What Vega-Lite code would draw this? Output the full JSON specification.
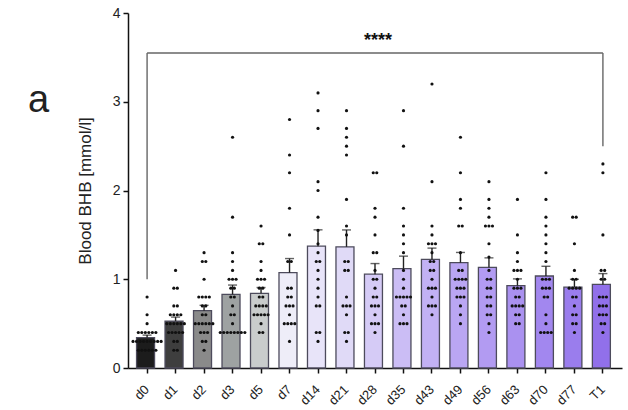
{
  "$schema": "https://vega.github.io/schema/vega-lite/v6.json",
  "width": 494,
  "height": 355,
  "autosize": {"type": "none"},
  "padding": {"left": 128, "top": 13, "right": 6, "bottom": 42},
  "background": "white",
  "title": {"text": "a", "orient": "top", "anchor": "start", "frame": "group", "fontSize": 38, "fontWeight": "normal", "font": "Liberation Sans", "color": "#222", "dx": -100, "dy": 118},
  "config": {
    "view": {"stroke": null},
    "axis": {"domainColor": "#111", "domainWidth": 1.5, "tickColor": "#111", "tickWidth": 1.5, "tickSize": 5, "labelFont": "Liberation Sans", "titleFont": "Liberation Sans", "labelColor": "#222", "titleColor": "#222", "grid": false},
    "axisX": {"labelAngle": 315, "labelAlign": "right", "labelBaseline": "middle", "labelFontSize": 13, "labelPadding": 14, "title": null}
  },
  "datasets": {
    "pts": [
      {"day":"d0","v":0.8},{"day":"d0","v":0.6},{"day":"d0","v":0.5},{"day":"d0","v":0.4},{"day":"d0","v":0.4},{"day":"d0","v":0.4},{"day":"d0","v":0.4},{"day":"d0","v":0.4},{"day":"d0","v":0.4},{"day":"d0","v":0.3},{"day":"d0","v":0.3},{"day":"d0","v":0.3},{"day":"d0","v":0.3},{"day":"d0","v":0.3},{"day":"d0","v":0.3},{"day":"d0","v":0.3},{"day":"d0","v":0.3},{"day":"d0","v":0.3},{"day":"d0","v":0.2},{"day":"d0","v":0.2},{"day":"d0","v":0.2},{"day":"d0","v":0.2},{"day":"d0","v":0.2},{"day":"d0","v":0.2},
      {"day":"d1","v":1.1},{"day":"d1","v":0.9},{"day":"d1","v":0.9},{"day":"d1","v":0.7},{"day":"d1","v":0.7},{"day":"d1","v":0.6},{"day":"d1","v":0.6},{"day":"d1","v":0.6},{"day":"d1","v":0.6},{"day":"d1","v":0.5},{"day":"d1","v":0.5},{"day":"d1","v":0.5},{"day":"d1","v":0.5},{"day":"d1","v":0.5},{"day":"d1","v":0.5},{"day":"d1","v":0.4},{"day":"d1","v":0.4},{"day":"d1","v":0.4},{"day":"d1","v":0.4},{"day":"d1","v":0.4},{"day":"d1","v":0.3},{"day":"d1","v":0.3},{"day":"d1","v":0.2},{"day":"d1","v":0.2},
      {"day":"d2","v":1.3},{"day":"d2","v":1.2},{"day":"d2","v":1.2},{"day":"d2","v":1.0},{"day":"d2","v":0.8},{"day":"d2","v":0.8},{"day":"d2","v":0.8},{"day":"d2","v":0.8},{"day":"d2","v":0.7},{"day":"d2","v":0.7},{"day":"d2","v":0.6},{"day":"d2","v":0.6},{"day":"d2","v":0.5},{"day":"d2","v":0.5},{"day":"d2","v":0.5},{"day":"d2","v":0.5},{"day":"d2","v":0.5},{"day":"d2","v":0.5},{"day":"d2","v":0.4},{"day":"d2","v":0.4},{"day":"d2","v":0.4},{"day":"d2","v":0.3},{"day":"d2","v":0.3},{"day":"d2","v":0.2},
      {"day":"d3","v":2.6},{"day":"d3","v":1.7},{"day":"d3","v":1.3},{"day":"d3","v":1.2},{"day":"d3","v":1.1},{"day":"d3","v":1.0},{"day":"d3","v":1.0},{"day":"d3","v":1.0},{"day":"d3","v":0.9},{"day":"d3","v":0.9},{"day":"d3","v":0.8},{"day":"d3","v":0.8},{"day":"d3","v":0.7},{"day":"d3","v":0.6},{"day":"d3","v":0.6},{"day":"d3","v":0.5},{"day":"d3","v":0.4},{"day":"d3","v":0.4},{"day":"d3","v":0.4},{"day":"d3","v":0.4},{"day":"d3","v":0.4},{"day":"d3","v":0.4},{"day":"d3","v":0.4},{"day":"d3","v":0.4},
      {"day":"d5","v":1.6},{"day":"d5","v":1.4},{"day":"d5","v":1.4},{"day":"d5","v":1.2},{"day":"d5","v":1.1},{"day":"d5","v":1.0},{"day":"d5","v":1.0},{"day":"d5","v":1.0},{"day":"d5","v":0.9},{"day":"d5","v":0.9},{"day":"d5","v":0.8},{"day":"d5","v":0.8},{"day":"d5","v":0.7},{"day":"d5","v":0.7},{"day":"d5","v":0.7},{"day":"d5","v":0.7},{"day":"d5","v":0.6},{"day":"d5","v":0.6},{"day":"d5","v":0.6},{"day":"d5","v":0.6},{"day":"d5","v":0.6},{"day":"d5","v":0.5},{"day":"d5","v":0.4},{"day":"d5","v":0.4},
      {"day":"d7","v":2.8},{"day":"d7","v":2.4},{"day":"d7","v":2.2},{"day":"d7","v":1.8},{"day":"d7","v":1.5},{"day":"d7","v":1.2},{"day":"d7","v":1.2},{"day":"d7","v":0.9},{"day":"d7","v":0.9},{"day":"d7","v":0.8},{"day":"d7","v":0.8},{"day":"d7","v":0.7},{"day":"d7","v":0.7},{"day":"d7","v":0.7},{"day":"d7","v":0.6},{"day":"d7","v":0.5},{"day":"d7","v":0.5},{"day":"d7","v":0.5},{"day":"d7","v":0.5},{"day":"d7","v":0.3},
      {"day":"d14","v":3.1},{"day":"d14","v":2.9},{"day":"d14","v":2.7},{"day":"d14","v":2.1},{"day":"d14","v":2.0},{"day":"d14","v":1.7},{"day":"d14","v":1.55},{"day":"d14","v":1.4},{"day":"d14","v":1.3},{"day":"d14","v":1.2},{"day":"d14","v":1.2},{"day":"d14","v":1.1},{"day":"d14","v":1.0},{"day":"d14","v":0.9},{"day":"d14","v":0.8},{"day":"d14","v":0.7},{"day":"d14","v":0.7},{"day":"d14","v":0.4},{"day":"d14","v":0.4},{"day":"d14","v":0.3},
      {"day":"d21","v":2.9},{"day":"d21","v":2.7},{"day":"d21","v":2.6},{"day":"d21","v":2.5},{"day":"d21","v":2.4},{"day":"d21","v":1.9},{"day":"d21","v":1.6},{"day":"d21","v":1.5},{"day":"d21","v":1.2},{"day":"d21","v":1.2},{"day":"d21","v":1.1},{"day":"d21","v":1.1},{"day":"d21","v":0.8},{"day":"d21","v":0.7},{"day":"d21","v":0.7},{"day":"d21","v":0.7},{"day":"d21","v":0.6},{"day":"d21","v":0.4},{"day":"d21","v":0.4},{"day":"d21","v":0.3},
      {"day":"d28","v":2.2},{"day":"d28","v":2.2},{"day":"d28","v":1.8},{"day":"d28","v":1.7},{"day":"d28","v":1.5},{"day":"d28","v":1.3},{"day":"d28","v":1.3},{"day":"d28","v":1.1},{"day":"d28","v":1.0},{"day":"d28","v":1.0},{"day":"d28","v":0.9},{"day":"d28","v":0.8},{"day":"d28","v":0.8},{"day":"d28","v":0.7},{"day":"d28","v":0.7},{"day":"d28","v":0.7},{"day":"d28","v":0.6},{"day":"d28","v":0.5},{"day":"d28","v":0.5},{"day":"d28","v":0.5},{"day":"d28","v":0.4},
      {"day":"d35","v":2.9},{"day":"d35","v":2.5},{"day":"d35","v":1.8},{"day":"d35","v":1.6},{"day":"d35","v":1.5},{"day":"d35","v":1.4},{"day":"d35","v":1.3},{"day":"d35","v":1.1},{"day":"d35","v":1.0},{"day":"d35","v":0.9},{"day":"d35","v":0.8},{"day":"d35","v":0.8},{"day":"d35","v":0.8},{"day":"d35","v":0.8},{"day":"d35","v":0.8},{"day":"d35","v":0.7},{"day":"d35","v":0.7},{"day":"d35","v":0.6},{"day":"d35","v":0.5},{"day":"d35","v":0.5},{"day":"d35","v":0.5},
      {"day":"d43","v":3.2},{"day":"d43","v":2.1},{"day":"d43","v":1.6},{"day":"d43","v":1.5},{"day":"d43","v":1.4},{"day":"d43","v":1.4},{"day":"d43","v":1.4},{"day":"d43","v":1.3},{"day":"d43","v":1.2},{"day":"d43","v":1.2},{"day":"d43","v":1.1},{"day":"d43","v":1.1},{"day":"d43","v":1.0},{"day":"d43","v":0.9},{"day":"d43","v":0.9},{"day":"d43","v":0.9},{"day":"d43","v":0.8},{"day":"d43","v":0.7},{"day":"d43","v":0.7},{"day":"d43","v":0.7},{"day":"d43","v":0.6},
      {"day":"d49","v":2.6},{"day":"d49","v":2.2},{"day":"d49","v":1.9},{"day":"d49","v":1.8},{"day":"d49","v":1.6},{"day":"d49","v":1.6},{"day":"d49","v":1.3},{"day":"d49","v":1.1},{"day":"d49","v":1.1},{"day":"d49","v":1.0},{"day":"d49","v":1.0},{"day":"d49","v":1.0},{"day":"d49","v":1.0},{"day":"d49","v":0.9},{"day":"d49","v":0.9},{"day":"d49","v":0.9},{"day":"d49","v":0.8},{"day":"d49","v":0.8},{"day":"d49","v":0.8},{"day":"d49","v":0.7},{"day":"d49","v":0.6},{"day":"d49","v":0.5},
      {"day":"d56","v":2.1},{"day":"d56","v":1.9},{"day":"d56","v":1.8},{"day":"d56","v":1.7},{"day":"d56","v":1.6},{"day":"d56","v":1.6},{"day":"d56","v":1.6},{"day":"d56","v":1.4},{"day":"d56","v":1.25},{"day":"d56","v":1.1},{"day":"d56","v":1.0},{"day":"d56","v":1.0},{"day":"d56","v":0.9},{"day":"d56","v":0.9},{"day":"d56","v":0.8},{"day":"d56","v":0.8},{"day":"d56","v":0.7},{"day":"d56","v":0.7},{"day":"d56","v":0.6},{"day":"d56","v":0.6},{"day":"d56","v":0.5},{"day":"d56","v":0.4},
      {"day":"d63","v":1.9},{"day":"d63","v":1.5},{"day":"d63","v":1.3},{"day":"d63","v":1.2},{"day":"d63","v":1.1},{"day":"d63","v":1.1},{"day":"d63","v":1.1},{"day":"d63","v":1.0},{"day":"d63","v":0.9},{"day":"d63","v":0.9},{"day":"d63","v":0.9},{"day":"d63","v":0.8},{"day":"d63","v":0.8},{"day":"d63","v":0.7},{"day":"d63","v":0.7},{"day":"d63","v":0.7},{"day":"d63","v":0.7},{"day":"d63","v":0.6},{"day":"d63","v":0.6},{"day":"d63","v":0.5},{"day":"d63","v":0.5},
      {"day":"d70","v":2.2},{"day":"d70","v":1.9},{"day":"d70","v":1.7},{"day":"d70","v":1.6},{"day":"d70","v":1.5},{"day":"d70","v":1.4},{"day":"d70","v":1.3},{"day":"d70","v":1.2},{"day":"d70","v":1.0},{"day":"d70","v":1.0},{"day":"d70","v":1.0},{"day":"d70","v":0.9},{"day":"d70","v":0.9},{"day":"d70","v":0.9},{"day":"d70","v":0.8},{"day":"d70","v":0.8},{"day":"d70","v":0.6},{"day":"d70","v":0.5},{"day":"d70","v":0.4},{"day":"d70","v":0.4},{"day":"d70","v":0.4},{"day":"d70","v":0.4},
      {"day":"d77","v":1.7},{"day":"d77","v":1.7},{"day":"d77","v":1.4},{"day":"d77","v":1.1},{"day":"d77","v":1.0},{"day":"d77","v":1.0},{"day":"d77","v":0.9},{"day":"d77","v":0.9},{"day":"d77","v":0.9},{"day":"d77","v":0.9},{"day":"d77","v":0.8},{"day":"d77","v":0.8},{"day":"d77","v":0.7},{"day":"d77","v":0.6},{"day":"d77","v":0.6},{"day":"d77","v":0.5},{"day":"d77","v":0.5},{"day":"d77","v":0.4},
      {"day":"T1","v":2.3},{"day":"T1","v":2.2},{"day":"T1","v":1.5},{"day":"T1","v":1.1},{"day":"T1","v":1.1},{"day":"T1","v":1.0},{"day":"T1","v":1.0},{"day":"T1","v":0.8},{"day":"T1","v":0.8},{"day":"T1","v":0.8},{"day":"T1","v":0.7},{"day":"T1","v":0.7},{"day":"T1","v":0.7},{"day":"T1","v":0.6},{"day":"T1","v":0.6},{"day":"T1","v":0.6},{"day":"T1","v":0.5},{"day":"T1","v":0.5},{"day":"T1","v":0.4}
    ],
    "bracket": [
      {"x":"d0","x2":"T1","y":3.55,"y2":3.55},
      {"x":"d0","x2":"d0","y":1.0,"y2":3.55},
      {"x":"T1","x2":"T1","y":2.5,"y2":3.55}
    ],
    "sig": [{"x":"d28","y":3.72,"label":"****"}]
  },
  "encoding": {
    "x": {"field": "day", "type": "nominal",
      "sort": ["d0","d1","d2","d3","d5","d7","d14","d21","d28","d35","d43","d49","d56","d63","d70","d77","T1"],
      "scale": {"type": "band", "paddingInner": 0.26, "paddingOuter": 0.3,
        "domain": ["d0","d1","d2","d3","d5","d7","d14","d21","d28","d35","d43","d49","d56","d63","d70","d77","T1"]},
      "axis": {"title": null, "labelAngle": 315, "labelAlign": "right", "labelBaseline": "middle", "labelPadding": 14}}
  },
  "layer": [
    {
      "data": {"name": "pts"},
      "mark": {"type": "bar", "stroke": "#4d4b5c", "strokeWidth": 1.3},
      "encoding": {
        "y": {"aggregate": "mean", "field": "v", "type": "quantitative",
          "scale": {"domain": [0, 4], "nice": false},
          "axis": {"title": "Blood BHB [mmol/l]", "titleFontSize": 17, "titleFontWeight": "normal", "labelFontSize": 14, "values": [0,1,2,3,4], "format": "d", "titlePadding": 18, "labelPadding": 3}},
        "color": {"field": "day", "type": "nominal", "legend": null,
          "scale": {"domain": ["d0","d1","d2","d3","d5","d7","d14","d21","d28","d35","d43","d49","d56","d63","d70","d77","T1"],
            "range": ["#1c1c1c","#3e3e3e","#8a8a8a","#9ea2a2","#c9cccc","#eeedf8","#e8e4f9","#e0daf7","#d5cbf6","#cbbdf5","#c2b1f4","#baa6f3","#b29bf2","#aa91f0","#a287ef","#9a7ded","#9170ea"]}}
      }
    },
    {
      "data": {"name": "pts"},
      "transform": [
        {"aggregate": [{"op": "mean", "field": "v", "as": "m"}, {"op": "stderr", "field": "v", "as": "se"}], "groupby": ["day"]},
        {"calculate": "datum.m + datum.se", "as": "hi"}
      ],
      "layer": [
        {"mark": {"type": "rule", "color": "#222", "strokeWidth": 1.4},
          "encoding": {"y": {"field": "m", "type": "quantitative"}, "y2": {"field": "hi"}}},
        {"mark": {"type": "tick", "color": "#222", "thickness": 1.4, "size": 9, "orient": "horizontal"},
          "encoding": {"y": {"field": "hi", "type": "quantitative"}}}
      ]
    },
    {
      "data": {"name": "pts"},
      "transform": [
        {"window": [{"op": "row_number", "as": "rn"}], "groupby": ["day", "v"]},
        {"joinaggregate": [{"op": "count", "as": "cnt"}], "groupby": ["day", "v"]},
        {"calculate": "datum.rn - (datum.cnt + 1) / 2", "as": "off"}
      ],
      "mark": {"type": "circle", "size": 10, "color": "#111", "opacity": 1},
      "encoding": {
        "y": {"field": "v", "type": "quantitative"},
        "xOffset": {"field": "off", "type": "quantitative", "scale": {"domain": [-3, 3]}}
      }
    },
    {
      "data": {"name": "bracket"},
      "mark": {"type": "rule", "color": "#666", "strokeWidth": 1.4},
      "encoding": {
        "x": {"field": "x", "type": "nominal", "axis": {"title": null, "labelAngle": 315, "labelAlign": "right", "labelBaseline": "middle", "labelPadding": 14}},
        "x2": {"field": "x2"},
        "y": {"field": "y", "type": "quantitative"},
        "y2": {"field": "y2"}
      }
    },
    {
      "data": {"name": "sig"},
      "mark": {"type": "text", "fontSize": 18, "fontWeight": "bold", "font": "Liberation Sans", "color": "#111", "dx": 3, "dy": 3},
      "encoding": {
        "x": {"field": "x", "type": "nominal", "axis": {"title": null, "labelAngle": 315, "labelAlign": "right", "labelBaseline": "middle", "labelPadding": 14}},
        "y": {"field": "y", "type": "quantitative"},
        "text": {"field": "label"}
      }
    }
  ]
}
